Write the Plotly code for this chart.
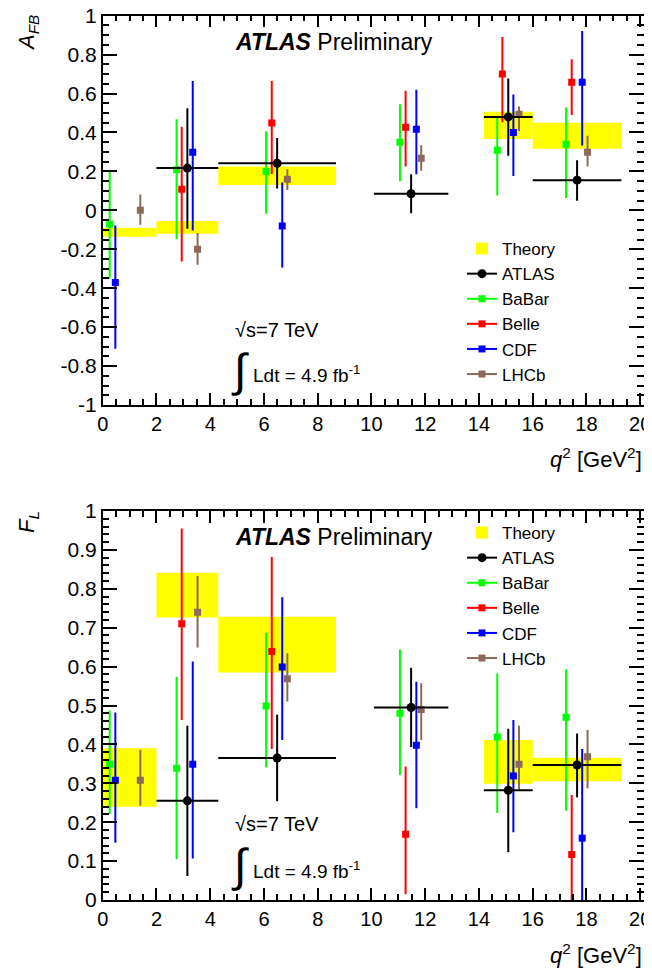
import plotly.graph_objects as go

# ---------------- data ----------------
theory_lo = [0.0, 2.0, 4.3, 14.18, 16.0]
theory_hi = [2.0, 4.3, 8.68, 16.0, 19.3]
afb_theory_min = [-0.135, -0.12, 0.13, 0.366, 0.317]
afb_theory_max = [-0.09, -0.055, 0.225, 0.506, 0.45]
fl_theory_min = [0.24, 0.726, 0.585, 0.299, 0.305]
fl_theory_max = [0.39, 0.841, 0.728, 0.411, 0.366]

atlas_lo = [2.0, 4.3, 10.09, 14.18, 16.0]
atlas_hi = [4.3, 8.68, 12.86, 16.0, 19.3]
atlas_x = [3.15, 6.49, 11.475, 15.09, 17.65]
atlas_afb = [0.217, 0.242, 0.085, 0.48, 0.155]
atlas_afb_up = [0.525, 0.372, 0.186, 0.677, 0.258]
atlas_afb_dn = [-0.095, 0.112, -0.015, 0.28, 0.049]
atlas_fl = [0.255, 0.365, 0.495, 0.282, 0.347]
atlas_fl_up = [0.448, 0.476, 0.597, 0.44, 0.428]
atlas_fl_dn = [0.062, 0.254, 0.393, 0.123, 0.264]

babar_x = [0.26, 2.75, 6.08, 11.06, 14.68, 17.24]
babar_afb = [-0.07, 0.208, 0.20, 0.35, 0.309, 0.34]
babar_afb_up = [0.208, 0.468, 0.407, 0.545, 0.48, 0.53]
babar_afb_dn = [-0.35, -0.148, -0.018, 0.15, 0.076, 0.064]
babar_fl = [0.349, 0.339, 0.499, 0.48, 0.419, 0.47]
babar_fl_up = [0.487, 0.574, 0.687, 0.644, 0.583, 0.593]
babar_fl_dn = [0.221, 0.105, 0.341, 0.321, 0.224, 0.23]

belle_x_afb = [2.94, 6.29, 11.27, 14.87, 17.45]
belle_afb = [0.109, 0.449, 0.427, 0.70, 0.658]
belle_afb_up = [0.43, 0.665, 0.614, 0.89, 0.776]
belle_afb_dn = [-0.263, 0.187, 0.225, 0.453, 0.49]
belle_x_fl = [2.94, 6.29, 11.27, 17.45]
belle_fl = [0.71, 0.639, 0.169, 0.117]
belle_fl_up = [0.955, 0.882, 0.343, 0.27]
belle_fl_dn = [0.463, 0.388, 0.015, 0.0]

cdf_x = [0.47, 3.35, 6.68, 11.67, 15.28, 17.84]
cdf_afb = [-0.371, 0.299, -0.08, 0.417, 0.40, 0.658]
cdf_afb_up = [-0.078, 0.665, 0.143, 0.619, 0.595, 0.922]
cdf_afb_dn = [-0.711, -0.104, -0.294, 0.186, 0.177, 0.333]
cdf_fl = [0.308, 0.349, 0.599, 0.398, 0.319, 0.159]
cdf_fl_up = [0.482, 0.613, 0.778, 0.561, 0.463, 0.388]
cdf_fl_dn = [0.147, 0.107, 0.411, 0.236, 0.174, 0.0]

lhcb_x = [1.40, 3.53, 6.87, 11.85, 15.49, 18.04]
lhcb_afb = [0.0, -0.2, 0.16, 0.268, 0.494, 0.299]
lhcb_afb_up = [0.082, -0.117, 0.211, 0.335, 0.533, 0.383]
lhcb_afb_dn = [-0.074, -0.28, 0.105, 0.204, 0.408, 0.225]
lhcb_fl = [0.308, 0.74, 0.569, 0.49, 0.349, 0.368]
lhcb_fl_up = [0.386, 0.833, 0.634, 0.557, 0.448, 0.437]
lhcb_fl_dn = [0.242, 0.649, 0.51, 0.411, 0.284, 0.287]

x_tickvals = [0, 2, 4, 6, 8, 10, 12, 14, 16, 18, 20]
x_ticktext = ["0", "2", "4", "6", "8", "10", "12", "14", "16", "18", "20"]
afb_tickvals = [-1, -0.8, -0.6, -0.4, -0.2, 0, 0.2, 0.4, 0.6, 0.8, 1]
afb_ticktext = ["-1", "-0.8", "-0.6", "-0.4", "-0.2", "0", "0.2", "0.4", "0.6", "0.8", "1"]
fl_tickvals = [0, 0.1, 0.2, 0.3, 0.4, 0.5, 0.6, 0.7, 0.8, 0.9, 1]
fl_ticktext = ["0", "0.1", "0.2", "0.3", "0.4", "0.5", "0.6", "0.7", "0.8", "0.9", "1"]

# ---------------- styling ----------------
# the page body has an 8 px margin, so the figure is 8 px smaller and
# all window-pixel positions are shifted by 8 px
OFF = 8
W, H = 652 - OFF, 974 - OFF
FONT = "Liberation Sans, Arial, Helvetica, sans-serif"
YELLOW = "#ffff00"
C_ATLAS = "#000000"
C_BABAR = "#00ff00"
C_BELLE = "#ff0000"
C_CDF = "#0000ff"
C_LHCB = "#8c6a5a"


def px(p):
    return (p - OFF) / W


def py(p):
    return 1 - (p - OFF) / H


fig = go.Figure()


def gap(vals):
    out = []
    for v in vals:
        out += [v, None]
    return out[:-1]


def add_theory(vmin, vmax, xa, ya, legend):
    centers = [(a + b) / 2 for a, b in zip(theory_lo, theory_hi)]
    widths = [b - a for a, b in zip(theory_lo, theory_hi)]
    heights = [b - a for a, b in zip(vmin, vmax)]
    fig.add_trace(go.Bar(
        x=centers, y=heights, base=vmin, width=widths,
        marker=dict(color=YELLOW, line=dict(width=0)),
        name="Theory", xaxis=xa, yaxis=ya, legend=legend, legendrank=1,
        hoverinfo="skip"))


def add_points(x, y, up, dn, name, color, symbol, size, xa, ya, legend, rank,
               xlo=None, xhi=None):
    plus = [u - v for u, v in zip(up, y)]
    minus = [v - d for v, d in zip(y, dn)]
    if xlo is not None:
        ex = dict(type="data", array=gap([b - v for v, b in zip(x, xhi)]),
                  arrayminus=gap([v - a for v, a in zip(x, xlo)]),
                  width=0, thickness=2, color=color)
    else:
        ex = dict(visible=False)
    fig.add_trace(go.Scatter(
        x=gap(x), y=gap(y), mode="lines+markers", connectgaps=False,
        line=dict(color=color, width=2),
        marker=dict(symbol=symbol, size=size, color=color),
        error_y=dict(type="data", array=gap(plus), arrayminus=gap(minus),
                     width=0, thickness=2, color=color),
        error_x=ex, name=name, xaxis=xa, yaxis=ya, legend=legend,
        legendrank=rank))


for xa, ya, lg, th_min, th_max, at, at_up, at_dn, bb, bb_up, bb_dn, \
        be_x, be, be_up, be_dn, cd, cd_up, cd_dn, lh, lh_up, lh_dn in [
        ("x", "y", "legend", afb_theory_min, afb_theory_max,
         atlas_afb, atlas_afb_up, atlas_afb_dn,
         babar_afb, babar_afb_up, babar_afb_dn,
         belle_x_afb, belle_afb, belle_afb_up, belle_afb_dn,
         cdf_afb, cdf_afb_up, cdf_afb_dn,
         lhcb_afb, lhcb_afb_up, lhcb_afb_dn),
        ("x2", "y2", "legend2", fl_theory_min, fl_theory_max,
         atlas_fl, atlas_fl_up, atlas_fl_dn,
         babar_fl, babar_fl_up, babar_fl_dn,
         belle_x_fl, belle_fl, belle_fl_up, belle_fl_dn,
         cdf_fl, cdf_fl_up, cdf_fl_dn,
         lhcb_fl, lhcb_fl_up, lhcb_fl_dn)]:
    add_theory(th_min, th_max, xa, ya, lg)
    add_points(babar_x, bb, bb_up, bb_dn, "BaBar", C_BABAR, "square", 7, xa, ya, lg, 3)
    add_points(be_x, be, be_up, be_dn, "Belle", C_BELLE, "square", 7, xa, ya, lg, 4)
    add_points(cdf_x, cd, cd_up, cd_dn, "CDF", C_CDF, "square", 7, xa, ya, lg, 5)
    add_points(lhcb_x, lh, lh_up, lh_dn, "LHCb", C_LHCB, "square", 7, xa, ya, lg, 6)
    add_points(atlas_x, at, at_up, at_dn, "ATLAS", C_ATLAS, "circle", 9, xa, ya, lg, 2,
               xlo=atlas_lo, xhi=atlas_hi)

# ---------------- layout ----------------
x_dom = [px(102.7), px(644)]
top_dom = [py(405), py(15.7)]
bot_dom = [py(900), py(511)]

xaxis_common = dict(
    range=[0, 20.14], tickvals=x_tickvals, ticktext=x_ticktext,
    ticks="inside", ticklen=12, tickwidth=1.5, tickcolor="black",
    minor=dict(ticks="inside", ticklen=6, dtick=0.5, tick0=0, tickwidth=1.5,
               tickcolor="black"),
    showline=True, linewidth=1.5, linecolor="black", mirror="allticks",
    showgrid=False, zeroline=False, automargin=False,
    ticklabeloverflow="allow",
    tickfont=dict(family=FONT, size=20, color="black"))
yaxis_common = dict(
    ticks="inside", ticklen=15, tickwidth=1.5, tickcolor="black",
    showline=True, linewidth=1.5, linecolor="black", mirror="allticks",
    showgrid=False, zeroline=False, automargin=False,
    ticklabeloverflow="allow",
    tickfont=dict(family=FONT, size=21, color="black"))

fig.update_layout(
    width=W, height=H, autosize=False,
    margin=dict(l=0, r=0, t=0, b=0, autoexpand=False),
    paper_bgcolor="white", plot_bgcolor="white",
    barmode="overlay",
    font=dict(family=FONT, color="black"),
    xaxis=dict(domain=x_dom, anchor="y", **xaxis_common),
    yaxis=dict(domain=top_dom, anchor="x", range=[-1, 1],
               tickvals=afb_tickvals, ticktext=afb_ticktext,
               minor=dict(ticks="inside", ticklen=7, dtick=0.05, tick0=0,
                          tickwidth=1.5, tickcolor="black"),
               **yaxis_common),
    xaxis2=dict(domain=x_dom, anchor="y2", **xaxis_common),
    yaxis2=dict(domain=bot_dom, anchor="x2", range=[0, 1],
                tickvals=fl_tickvals, ticktext=fl_ticktext,
                minor=dict(ticks="inside", ticklen=7, dtick=0.02, tick0=0,
                           tickwidth=1.5, tickcolor="black"),
                **yaxis_common),
    legend=dict(x=px(462), y=py(231), xanchor="left", yanchor="top",
                bgcolor="rgba(0,0,0,0)", borderwidth=0,
                font=dict(family=FONT, size=17, color="black"),
                traceorder="normal"),
    legend2=dict(x=px(462), y=py(515), xanchor="left", yanchor="top",
                 bgcolor="rgba(0,0,0,0)", borderwidth=0,
                 font=dict(family=FONT, size=17, color="black"),
                 traceorder="normal"),
    showlegend=True,
)

ann = []
for yc_atlas, yc_sqrt, yc_int, yc_ldt, ytitle_top, title, yc_q in [
        (42, 330, 370, 374, 13, "<i>A<sub>FB</sub></i>", 458),
        (537, 824, 865, 870, 509, "<i>F<sub>L</sub></i>", 954)]:
    common = dict(xref="paper", yref="paper", showarrow=False)
    ann += [
        dict(text="<b><i>ATLAS</i></b> Preliminary", x=px(233), y=py(yc_atlas),
             xanchor="left", yanchor="middle",
             font=dict(family=FONT, size=23, color="black"), **common),
        dict(text="\u221as=7 TeV", x=px(233), y=py(yc_sqrt),
             xanchor="left", yanchor="middle",
             font=dict(family=FONT, size=20, color="black"), **common),
        dict(text="\u222b", x=px(240), y=py(yc_int),
             xanchor="center", yanchor="middle",
             font=dict(family=FONT, size=46, color="black"), **common),
        dict(text="Ldt = 4.9 fb<sup>-1</sup>", x=px(251), y=py(yc_ldt),
             xanchor="left", yanchor="middle",
             font=dict(family=FONT, size=19, color="black"), **common),
        dict(text=title, x=px(28), y=py(ytitle_top), textangle=-90,
             xanchor="center", yanchor="top",
             font=dict(family=FONT, size=22, color="black"), **common),
        dict(text="<i>q</i><sup>2</sup> [GeV<sup>2</sup>]", x=px(644), y=py(yc_q),
             xanchor="right", yanchor="middle",
             font=dict(family=FONT, size=22, color="black"), **common),
    ]
fig.update_layout(annotations=ann)

fig.write_html("out.html")
